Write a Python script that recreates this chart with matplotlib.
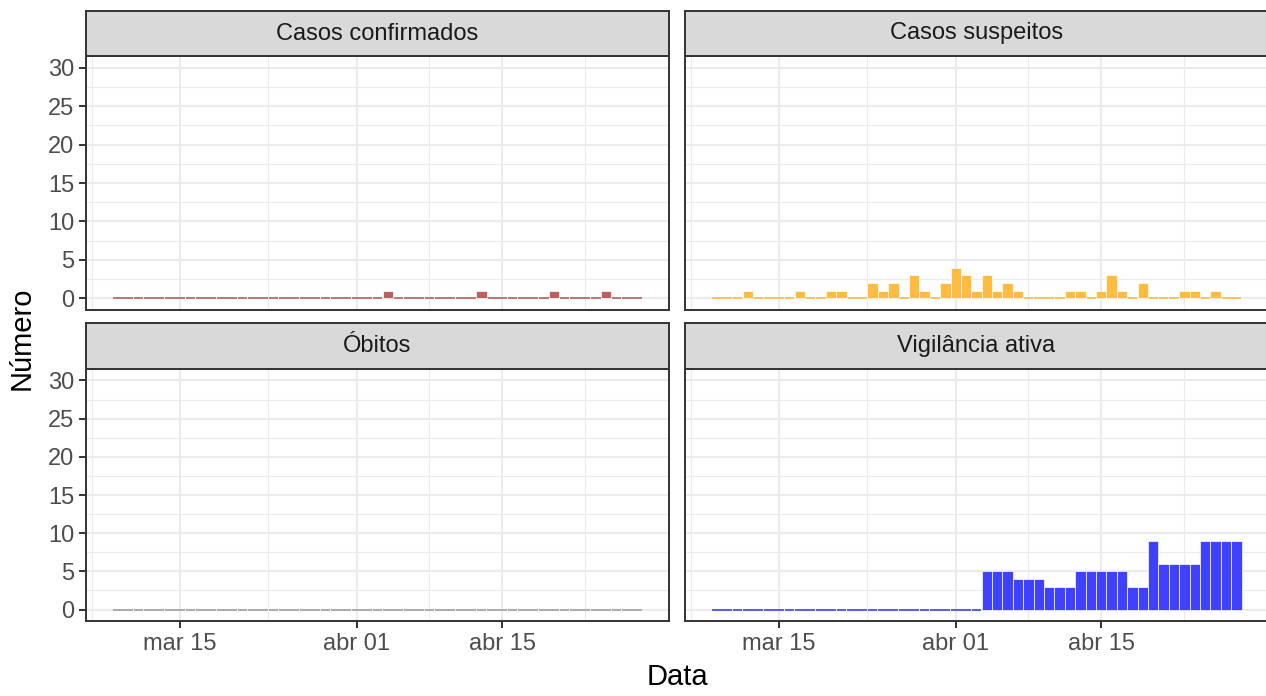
import matplotlib
matplotlib.use('Agg')
import matplotlib.pyplot as plt
import matplotlib.dates as mdates
from datetime import date, timedelta

plt.rcParams['font.family'] = ['Liberation Sans', 'DejaVu Sans']

# ---------------- data ----------------
start_date = date(2020, 3, 9)
n_days = 51
dates = [start_date + timedelta(days=i) for i in range(n_days)]

confirmados = [0, 0, 0, 0, 0, 0, 0, 0, 0, 0,
               0, 0, 0, 0, 0, 0, 0, 0, 0, 0,
               0, 0, 0, 0, 0, 0, 1, 0, 0, 0,
               0, 0, 0, 0, 0, 1, 0, 0, 0, 0,
               0, 0, 1, 0, 0, 0, 0, 1, 0, 0,
               0]
suspeitos = [0, 0, 0, 1, 0, 0, 0, 0, 1, 0,
             0, 1, 1, 0, 0, 2, 1, 2, 0, 3,
             1, 0, 2, 4, 3, 1, 3, 1, 2, 1,
             0, 0, 0, 0, 1, 1, 0, 1, 3, 1,
             0, 2, 0, 0, 0, 1, 1, 0, 1, 0,
             0]
obitos = [0] * 51
vigilancia = [0, 0, 0, 0, 0, 0, 0, 0, 0, 0,
              0, 0, 0, 0, 0, 0, 0, 0, 0, 0,
              0, 0, 0, 0, 0, 0, 5, 5, 5, 4,
              4, 4, 3, 3, 3, 5, 5, 5, 5, 5,
              3, 3, 9, 6, 6, 6, 6, 9, 9, 9,
              9]

panel_titles = ["Casos confirmados", "Casos suspeitos", "Óbitos", "Vigilância ativa"]
panel_values = [confirmados, suspeitos, obitos, vigilancia]
panel_colors = ["#BC5F5F", "#FFBC40", "#A0A0A0", "#4040FF"]

x_tick_dates = [date(2020, 3, 15), date(2020, 4, 1), date(2020, 4, 15)]
x_tick_labels = ["mar 15", "abr 01", "abr 15"]
x_minor_dates = [date(2020, 3, 6), date(2020, 3, 23), date(2020, 4, 8), date(2020, 4, 23)]
x_minor_offsets = [0.5, 0.5, 0.0, 0.0]
y_ticks = [0, 5, 10, 15, 20, 25, 30]
y_minor = [2.5, 7.5, 12.5, 17.5, 22.5, 27.5]

# ---------------- layout ----------------
W, H = 1266, 696
fig = plt.figure(figsize=(W / 100, H / 100), dpi=100)
fig.patch.set_facecolor('white')

cols = [(86, 669), (685, 1268)]
rows = [((11, 56), (56, 310)), ((323, 369), (369, 621))]

def rect(x0, x1, ytop, ybot):
    return [x0 / W, (H - ybot) / H, (x1 - x0) / W, (ybot - ytop) / H]

xnum = mdates.date2num(dates)
xmin = xnum[0] - 0.5 - 0.05 * n_days
xmax = xnum[-1] + 0.5 + 0.05 * n_days
ymin, ymax = -1.5, 31.5

border_col = '#333333'
grid_col = '#EBEBEB'

for k in range(4):
    r, c = divmod(k, 2)
    (sx0, sx1) = cols[c]
    (st, sb), (pt, pb) = rows[r]
    ax = fig.add_axes(rect(sx0, sx1, pt, pb))
    ax.set_xlim(xmin, xmax)
    ax.set_ylim(ymin, ymax)
    ax.set_facecolor('white')

    # gridlines
    for yv in y_minor:
        ax.axhline(yv, color=grid_col, lw=0.8, zorder=0)
    for yv in y_ticks:
        ax.axhline(yv, color=grid_col, lw=1.5, zorder=0)
    for d, off in zip(x_minor_dates, x_minor_offsets):
        ax.axvline(mdates.date2num(d) + off, color=grid_col, lw=0.8, zorder=0)
    for d in x_tick_dates:
        ax.axvline(mdates.date2num(d), color=grid_col, lw=1.5, zorder=0)

    vals = panel_values[k]
    col = panel_colors[k]
    nz_x = [x for x, v in zip(xnum, vals) if v > 0]
    nz_v = [v for v in vals if v > 0]
    z_x = [x for x, v in zip(xnum, vals) if v == 0]
    ax.bar(nz_x, nz_v, width=1.0, color=col, edgecolor='white', linewidth=0.5, zorder=3)
    ax.hlines([0] * len(z_x), [x - 0.47 for x in z_x], [x + 0.47 for x in z_x],
              colors=col, lw=1.2, zorder=2)

    for sp in ax.spines.values():
        sp.set_color(border_col)
        sp.set_linewidth(1.4)
        sp.set_zorder(5)

    ax.set_xticks([mdates.date2num(d) for d in x_tick_dates])
    ax.set_yticks(y_ticks)
    ax.tick_params(axis='both', direction='out', length=5.3, width=1.4,
                   color=border_col, labelcolor='#4D4D4D', labelsize=17, pad=3)
    if r == 1:
        ax.set_xticklabels(x_tick_labels)
    else:
        ax.tick_params(axis='x', length=0, labelbottom=False)
    if c == 0:
        ax.set_yticklabels([str(v) for v in y_ticks])
    else:
        ax.tick_params(axis='y', length=0, labelleft=False)

    # strip
    sax = fig.add_axes(rect(sx0, sx1, st, sb))
    sax.set_facecolor('#D9D9D9')
    sax.set_xticks([])
    sax.set_yticks([])
    for sp in sax.spines.values():
        sp.set_color(border_col)
        sp.set_linewidth(1.4)
    sax.text(0.5, 0.5, panel_titles[k], ha='center', va='center',
             fontsize=17, color='#1A1A1A', transform=sax.transAxes)

fig.text((86 + 1268) / 2 / W, 1 - 677 / H, "Data", ha='center', va='center',
         fontsize=21, color='black')
fig.text(22 / W, 1 - 338 / H, "Número", ha='center', va='center',
         rotation=90, fontsize=21, color='black')

fig.savefig('out.png', dpi=100, facecolor='white')
